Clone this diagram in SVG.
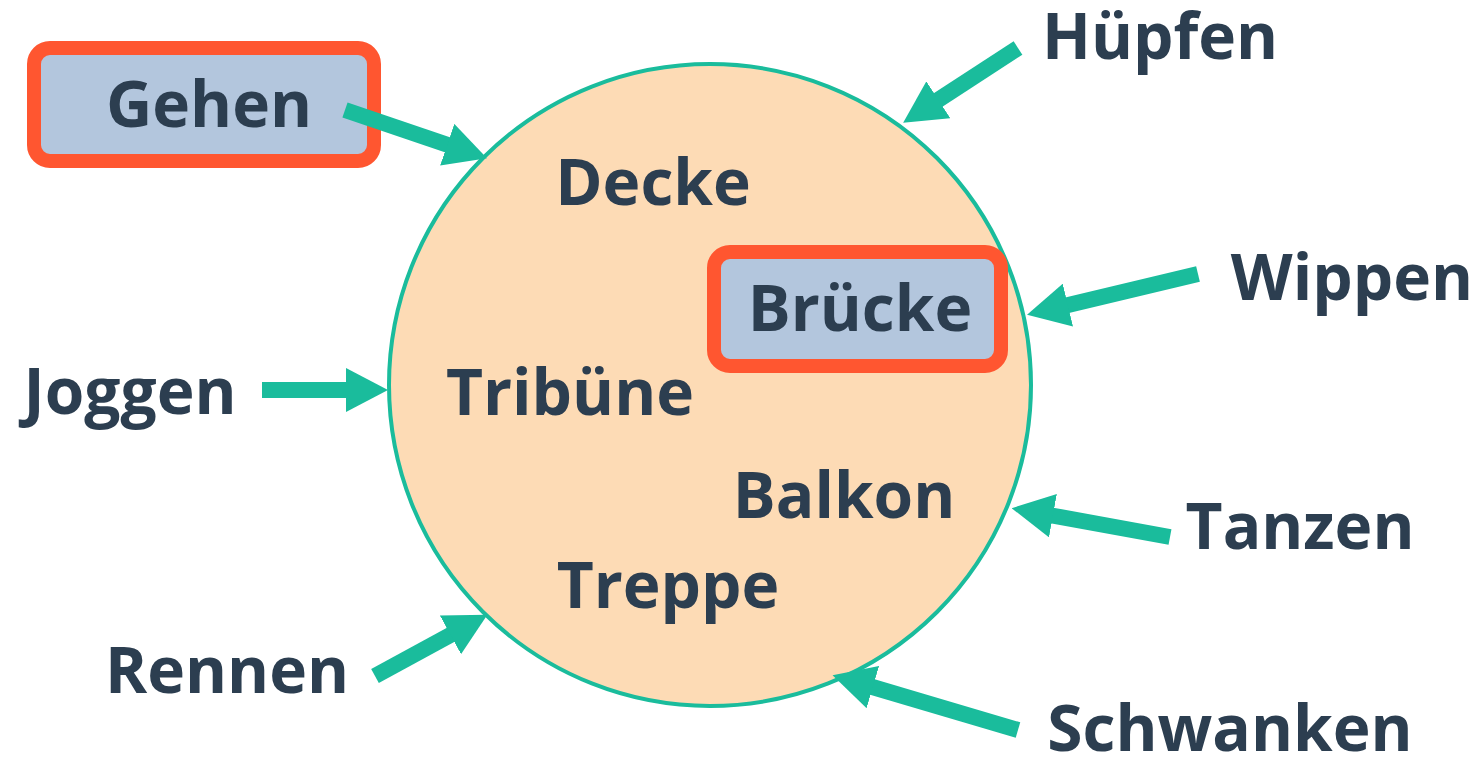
<svg xmlns="http://www.w3.org/2000/svg" width="1481" height="758" viewBox="0 0 1481 758">
<style>
.t{font-family:"Open Sans","Noto Sans","DejaVu Sans",sans-serif;font-weight:700;font-size:64px;fill:#2C3E50;text-anchor:middle}
.c{stroke:#1ABC9C;stroke-width:16;fill:none}
.box{fill:#B3C6DD;stroke:#FF5630;stroke-width:14}
</style>
<defs>
<marker id="ah" markerUnits="userSpaceOnUse" viewBox="0 0 42 44" markerWidth="42" markerHeight="44" refX="4" refY="22" orient="auto">
<path d="M0,0 L42,22 L0,44 z" fill="#1ABC9C"/>
</marker>
</defs>
<rect width="1481" height="758" fill="#FFFFFF"/>
<g id="circle">
<circle cx="710" cy="385" r="321" fill="#FDDBB5" stroke="#1ABC9C" stroke-width="4"/>
</g>
<g id="node-gehen">
<rect class="box" x="34" y="48" width="340" height="113" rx="16"/>
<text class="t" x="209" y="127">Gehen</text>
</g>
<g id="node-bruecke">
<rect class="box" x="714" y="252" width="287" height="114" rx="16"/>
<text class="t" x="860" y="331">Brücke</text>
</g>
<g id="node-decke"><text class="t" x="653" y="205">Decke</text></g>
<g id="node-tribuene"><text class="t" x="570" y="415">Tribüne</text></g>
<g id="node-balkon"><text class="t" x="844" y="518">Balkon</text></g>
<g id="node-treppe"><text class="t" x="668" y="608">Treppe</text></g>
<g id="node-huepfen"><text class="t" x="1160" y="59">Hüpfen</text></g>
<g id="node-wippen"><text class="t" x="1352" y="300">Wippen</text></g>
<g id="node-joggen"><text class="t" x="130" y="414">Joggen</text></g>
<g id="node-tanzen"><text class="t" x="1300" y="549">Tanzen</text></g>
<g id="node-schwanken"><text class="t" x="1230" y="751">Schwanken</text></g>
<g id="node-rennen"><text class="t" x="227" y="693">Rennen</text></g>
<g id="connectors">
<line class="c" x1="345" y1="110" x2="451" y2="146" marker-end="url(#ah)"/>
<line class="c" x1="1018" y1="48" x2="935" y2="102" marker-end="url(#ah)"/>
<line class="c" x1="1198" y1="274" x2="1064" y2="306" marker-end="url(#ah)"/>
<line class="c" x1="262" y1="390" x2="350" y2="390" marker-end="url(#ah)"/>
<line class="c" x1="1170" y1="537" x2="1049" y2="515" marker-end="url(#ah)"/>
<line class="c" x1="1018" y1="730" x2="869" y2="686" marker-end="url(#ah)"/>
<line class="c" x1="375" y1="676" x2="454" y2="633" marker-end="url(#ah)"/>
</g>
</svg>
